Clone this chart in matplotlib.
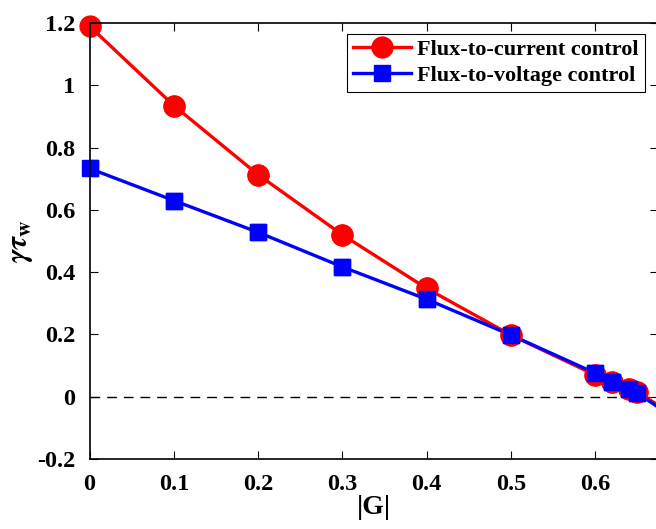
import numpy as np
import matplotlib
matplotlib.use('Agg')
import matplotlib.pyplot as plt

plt.rcParams['font.family'] = ['Liberation Serif', 'DejaVu Serif']
plt.rcParams['font.weight'] = 'bold'
plt.rcParams['mathtext.fontset'] = 'stix'

g = [0, 0.1, 0.2, 0.3, 0.4, 0.5, 0.6, 0.62, 0.64, 0.65, 0.7]
current_ctrl = [1.19, 0.935, 0.713, 0.52, 0.348, 0.198, 0.07, 0.047, 0.025, 0.015, -0.07]
voltage_ctrl = [0.733, 0.63, 0.528, 0.417, 0.313, 0.198, 0.076, 0.047, 0.025, 0.012, -0.08]
xticks = [0, 0.1, 0.2, 0.3, 0.4, 0.5, 0.6]
yticks = [-0.2, 0, 0.2, 0.4, 0.6, 0.8, 1, 1.2]

fig = plt.figure(figsize=(6.56, 5.29), dpi=100)
ax = fig.add_axes([89.5/656, 70/529, 568/656, 436/529])

ax.axhline(0, color='black', linestyle=(0, (7, 5)), linewidth=1)
ax.plot(g, current_ctrl, color='red', marker='o', markersize=15, linewidth=2.4,
        label='Flux-to-current control')
ax.plot(g, voltage_ctrl, color='blue', marker='s', markersize=12, linewidth=2.4,
        label='Flux-to-voltage control')
# markers spill over the axes edge in the original, the lines do not
for ln in ax.lines[1:]:
    ax.plot(ln.get_xdata()[:-1], ln.get_ydata()[:-1], linestyle='none',
            marker=ln.get_marker(), markersize=ln.get_markersize(),
            color=ln.get_color(), clip_on=False)

ax.set_xlim(0, 0.674)
ax.set_ylim(-0.2, 1.2)
ax.set_xticks(xticks)
ax.set_xticklabels(['0', '0.1', '0.2', '0.3', '0.4', '0.5', '0.6'])
ax.set_yticks(yticks)
ax.set_yticklabels(['-0.2', '0', '0.2', '0.4', '0.6', '0.8', '1', '1.2'])
ax.tick_params(direction='in', top=True, right=True, length=6, labelsize=17.5)
ax.tick_params(axis='x', pad=11)
ax.tick_params(axis='y', pad=10)
for s in ax.spines.values():
    s.set_linewidth(1.2)
for t in ax.get_xticklabels() + ax.get_yticklabels():
    t.set_fontweight('bold')

ax.set_xlabel('|G|', fontsize=20, fontweight='bold', labelpad=0)
ax.set_ylabel(r'$\gamma\tau_{\mathbf{w}}$', fontsize=22, labelpad=2)

leg = ax.legend(handles=ax.lines[1:3], loc='upper right', bbox_to_anchor=(0.985, 0.985),
                prop={'weight': 'bold', 'size': 16}, fancybox=False, framealpha=1,
                edgecolor='black', handlelength=2.6, borderpad=0.25, labelspacing=0.25,
                handletextpad=0.3, borderaxespad=0.2)
leg.get_frame().set_linewidth(0.8)

fig.savefig('out.png', dpi=100)
